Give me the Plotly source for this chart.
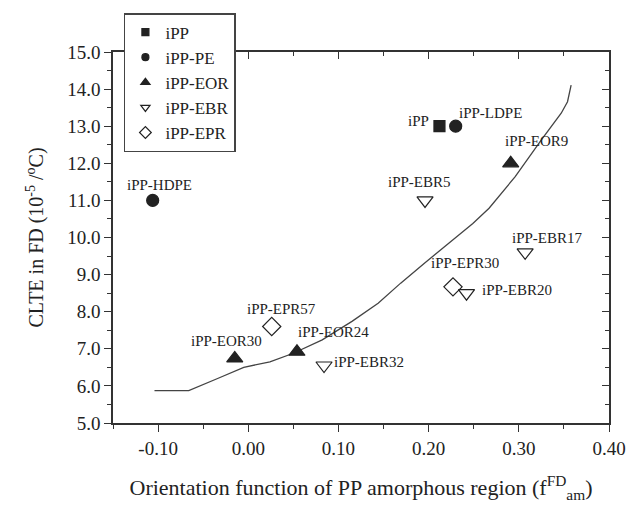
import plotly.graph_objects as go

# ---------------- data ----------------
groups = ["iPP", "iPP-PE", "iPP-EOR", "iPP-EBR", "iPP-EPR"]

ipp_names = ["iPP"]
ipp_x = [0.212]
ipp_y = [13.0]

pe_names = ["iPP-LDPE", "iPP-HDPE"]
pe_x = [0.230, -0.106]
pe_y = [13.0, 11.0]

eor_names = ["iPP-EOR9", "iPP-EOR24", "iPP-EOR30"]
eor_x = [0.291, 0.054, -0.015]
eor_y = [12.0, 6.92, 6.74]

ebr_names = ["iPP-EBR5", "iPP-EBR17", "iPP-EBR20", "iPP-EBR32"]
ebr_x = [0.196, 0.307, 0.242, 0.084]
ebr_y = [11.0, 9.6, 8.50, 6.55]

epr_names = ["iPP-EPR30", "iPP-EPR57"]
epr_x = [0.227, 0.026]
epr_y = [8.67, 7.60]

curve_x = [-0.104, -0.066, -0.034, -0.005, 0.024, 0.050, 0.082, 0.115, 0.144,
           0.169, 0.195, 0.220, 0.249, 0.267, 0.296, 0.325, 0.347, 0.354, 0.358]
curve_y = [5.87, 5.87, 6.20, 6.50, 6.65, 6.88, 7.24, 7.74, 8.23,
           8.77, 9.30, 9.80, 10.38, 10.79, 11.64, 12.63, 13.35, 13.66, 14.11]

x_ticks = [-0.10, 0.00, 0.10, 0.20, 0.30, 0.40]
x_ticklabels = ["-0.10", "0.00", "0.10", "0.20", "0.30", "0.40"]
y_ticks = [5, 6, 7, 8, 9, 10, 11, 12, 13, 14, 15]
y_ticklabels = ["5.0", "6.0", "7.0", "8.0", "9.0", "10.0", "11.0", "12.0", "13.0", "14.0", "15.0"]

# label offsets in pixels (style only)
label_style = {
    "iPP": (-8, 5, "right"),
    "iPP-LDPE": (35, 13, "center"),
    "iPP-HDPE": (7, 15, "center"),
    "iPP-EOR9": (26, 22, "center"),
    "iPP-EOR24": (37, 20, "center"),
    "iPP-EOR30": (-8, 17, "center"),
    "iPP-EBR5": (-6, 18, "center"),
    "iPP-EBR17": (22, 14, "center"),
    "iPP-EBR20": (50, 3, "center"),
    "iPP-EBR32": (45, 4, "center"),
    "iPP-EPR30": (12, 24, "center"),
    "iPP-EPR57": (10, 18, "center"),
}

FONT = "Liberation Serif, Times New Roman, serif"
INK = "#222222"

fig = go.Figure()

fig.add_trace(go.Scatter(x=curve_x, y=curve_y, mode="lines",
                         line=dict(color="#444444", width=1.3), showlegend=False,
                         hoverinfo="skip"))

series = [
    (ipp_names, ipp_x, ipp_y, "square", INK, 11, 7),
    (pe_names, pe_x, pe_y, "circle", INK, 12, 7),
    (eor_names, eor_x, eor_y, "triangle-up", INK, 14, 8),
    (ebr_names, ebr_x, ebr_y, "triangle-down-open", INK, 14, 8),
    (epr_names, epr_x, epr_y, "diamond-open", INK, 14, 9),
]

for g, (names, xs, ys, sym, col, size, lsize) in zip(groups, series):
    fig.add_trace(go.Scatter(x=xs, y=ys, mode="markers", text=names,
                             marker=dict(symbol=sym, size=size, color=col,
                                         line=dict(color=col, width=1.2)),
                             showlegend=False))
    # legend-only entry with smaller marker
    fig.add_trace(go.Scatter(x=[None], y=[None], mode="markers", name=g,
                             legendgroup=g,
                             marker=dict(symbol=sym, size=lsize, color=col,
                                         line=dict(color=col, width=1.2))))
    for n, xv, yv in zip(names, xs, ys):
        dx, dy, anc = label_style[n]
        fig.add_annotation(x=xv, y=yv, text=n, showarrow=False,
                           xshift=dx, yshift=dy, xanchor=anc, yanchor="middle",
                           font=dict(family=FONT, size=15, color=INK))

# invisible trace for mirrored top/right axes
fig.add_trace(go.Scatter(x=[None], y=[None], xaxis="x2", yaxis="y2",
                         showlegend=False, hoverinfo="skip"))

axis_common = dict(showgrid=False, zeroline=False, showline=True,
                   linecolor="#333333", linewidth=1.5,
                   tickcolor="#333333", tickwidth=1.3)

fig.update_layout(
    width=638, height=510,
    margin=dict(l=113, r=20, t=52, b=87),
    paper_bgcolor="white", plot_bgcolor="white",
    font=dict(family=FONT, color=INK),
    xaxis=dict(range=[-0.15, 0.40], tickvals=x_ticks, ticktext=x_ticklabels,
               ticks="outside", ticklen=7,
               minor=dict(dtick=0.05, tick0=0, ticks="outside", ticklen=4,
                          tickcolor="#333333", tickwidth=1.2),
               tickfont=dict(family=FONT, size=19, color=INK),
               title=dict(text="Orientation function of PP amorphous region (f<sup>FD</sup><sub>am</sub>)",
                          font=dict(family=FONT, size=22, color=INK), standoff=22),
               **axis_common),
    yaxis=dict(range=[5, 15], tickvals=y_ticks, ticktext=y_ticklabels,
               ticks="outside", ticklen=7,
               minor=dict(dtick=0.5, tick0=0, ticks="outside", ticklen=4,
                          tickcolor="#333333", tickwidth=1.2),
               tickfont=dict(family=FONT, size=19, color=INK),
               title=dict(text="CLTE in FD (10<sup>-5</sup> /<sup>o</sup>C)",
                          font=dict(family=FONT, size=20, color=INK), standoff=18),
               **axis_common),
    xaxis2=dict(range=[-0.15, 0.40], overlaying="x", side="top", anchor="y2",
                tickvals=x_ticks, showticklabels=False, ticks="inside", ticklen=7,
                minor=dict(dtick=0.05, tick0=0, ticks="inside", ticklen=4,
                           tickcolor="#333333", tickwidth=1.2),
                **axis_common),
    yaxis2=dict(range=[5, 15], overlaying="y", side="right", anchor="x2",
                tickvals=y_ticks, showticklabels=False, ticks="inside", ticklen=7,
                minor=dict(dtick=0.5, tick0=0, ticks="inside", ticklen=4,
                           tickcolor="#333333", tickwidth=1.2),
                **axis_common),
    legend=dict(x=0.022, y=1.105, xanchor="left", yanchor="top",
                bgcolor="white", bordercolor="#444444", borderwidth=1.5,
                font=dict(family=FONT, size=17, color=INK),
                tracegroupgap=0, traceorder="normal"),
    showlegend=True,
)

fig.write_html("out.html")
